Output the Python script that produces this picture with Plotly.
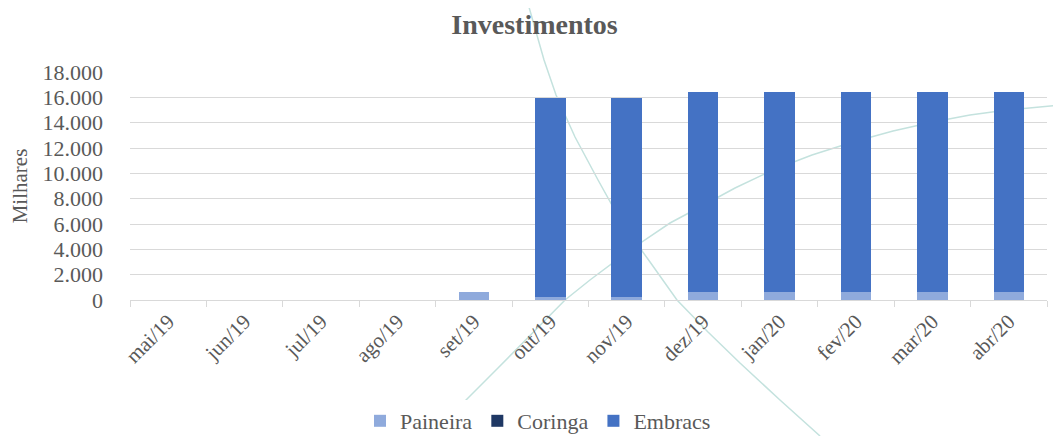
import plotly.graph_objects as go

meses = ["mai/19", "jun/19", "jul/19", "ago/19", "set/19", "out/19",
         "nov/19", "dez/19", "jan/20", "fev/20", "mar/20", "abr/20"]
paineira = [0, 0, 0, 0, 600, 200, 200, 650, 650, 650, 650, 650]
coringa = [0, 0, 0, 0, 0, 0, 0, 0, 0, 0, 0, 0]
embracs = [0, 0, 0, 0, 0, 15750, 15750, 15780, 15780, 15780, 15780, 15780]

FONT = "Liberation Serif"
GREY = "#595959"

fig = go.Figure()
fig.add_bar(name="Paineira", x=meses, y=paineira, marker_color="#8faadc",
            marker_line_width=0)
fig.add_bar(name="Coringa", x=meses, y=coringa, marker_color="#1f3864",
            marker_line_width=0)
fig.add_bar(name="Embracs", x=meses, y=embracs, marker_color="#4472c4",
            marker_line_width=0)

# page body has an 8px margin; work in screenshot pixels, shifted by OFF
OFF = 8
W, H = 1061 - OFF, 436 - OFF
L, R, T, B = 130, 1047, 72, 300  # plot area in screenshot pixels

def to_paper(pts):
    return [((x - L) / (R - L), (B - y) / (B - T)) for x, y in pts]

def path(pts):
    p = to_paper(pts)
    return "M " + " L ".join(f"{x:.4f},{y:.4f}" for x, y in p)

c1 = [(527, 0), (544, 60), (556, 95), (575, 137), (598, 180), (622, 223),
      (650, 262), (677, 300), (708, 332), (740, 363), (780, 400), (820, 436)]
c2 = [(430, 436), (498, 368), (565, 300), (590, 280), (630, 250), (670, 223),
      (700, 207), (735, 188), (773, 170), (812, 155), (853, 142), (893, 131),
      (933, 122), (970, 115), (1007, 110), (1061, 105)]

shapes = [dict(type="path", xref="paper", yref="paper", path=path(c), layer="below",
               line=dict(color="#c4e2de", width=1.5)) for c in (c1, c2)]

fig.update_layout(
    barmode="stack",
    bargap=0.6,
    width=W, height=H,
    margin=dict(l=L - OFF, r=W - (R - OFF), t=T - OFF, b=H - (B - OFF), autoexpand=False),
    paper_bgcolor="white", plot_bgcolor="rgba(0,0,0,0)",
    separators=",.",
    font=dict(family=FONT, color=GREY, size=21),
    title=dict(text="<b>Investimentos</b>", x=0.5, xanchor="center",
               yref="container", y=(H - (24 - OFF)) / H, yanchor="middle",
               font=dict(size=28, color=GREY, family=FONT)),
    legend=dict(orientation="h", xref="container", x=(538 - OFF) / W, xanchor="center",
                yref="container", y=(H - (421 - OFF)) / H, yanchor="middle",
                font=dict(size=22, color=GREY, family=FONT), itemwidth=30,
                traceorder="normal"),
    shapes=shapes,
    xaxis=dict(tickangle=-45, ticks="outside", tickson="boundaries", ticklen=6,
               tickcolor="#d9d9d9", showline=True, linecolor="#d9d9d9", linewidth=1,
               showgrid=False, tickfont=dict(size=21, color=GREY), automargin=False),
    yaxis=dict(range=[0, 18000], dtick=2000, tickformat=",d", showgrid=True,
               gridcolor="#d9d9d9", gridwidth=1, zeroline=False, showline=False,
               ticks="", tickfont=dict(size=22, color=GREY), ticklabelstandoff=26,
               automargin=False,
               title=dict(text="Milhares", standoff=14, font=dict(size=21, color=GREY))),
)

fig.write_html("out.html")
